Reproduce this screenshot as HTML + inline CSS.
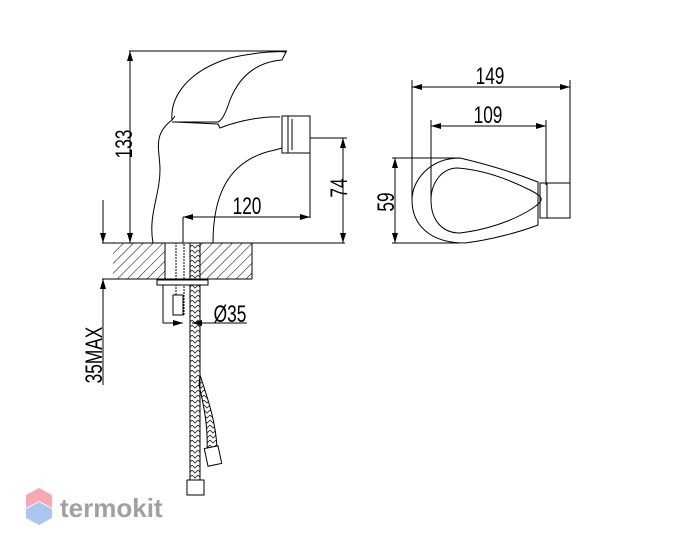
<!DOCTYPE html>
<html><head><meta charset="utf-8"><style>body{margin:0;background:#fff}svg{display:block}text{font-family:"Liberation Sans",sans-serif;fill:#000}</style></head>
<body>
<svg width="700" height="551" viewBox="0 0 700 551" xmlns="http://www.w3.org/2000/svg">
<defs>
<pattern id="h" width="7" height="7" patternUnits="userSpaceOnUse" patternTransform="rotate(45)"><line x1="0" y1="0" x2="0" y2="7" stroke="#000" stroke-width="1"/></pattern>
<pattern id="br" width="6" height="5" patternUnits="userSpaceOnUse"><path d="M0,0L3,3L6,0" stroke="#222" stroke-width="0.8" fill="none"/></pattern>
<marker id="a" viewBox="0 0 10 6" refX="10" refY="3" markerWidth="11" markerHeight="6" orient="auto-start-reverse" markerUnits="userSpaceOnUse"><path d="M0,0L10,3L0,6z" fill="#000"/></marker>
</defs>
<g stroke="#000" stroke-width="1" fill="none">
<rect x="113" y="243" width="52" height="36" fill="url(#h)" stroke="none"/>
<rect x="200" y="243" width="52" height="36" fill="url(#h)" stroke="none"/>
<line x1="102" y1="243" x2="345" y2="243"/>
<line x1="102" y1="279" x2="252" y2="279"/>
<line x1="165" y1="243" x2="165" y2="279"/>
<line x1="200" y1="243" x2="200" y2="279"/>
<line x1="252" y1="243" x2="252" y2="279"/>
<line x1="129" y1="51" x2="287" y2="51"/>
<line x1="130" y1="51" x2="130" y2="243" marker-start="url(#a)" marker-end="url(#a)"/>
<line x1="103" y1="200" x2="103" y2="243" marker-end="url(#a)"/>
<line x1="103" y1="385" x2="103" y2="279" marker-end="url(#a)"/>
<path d="M153,243 C148,215 160,195 160,170 C160,150 152,135 172,120 L175,116"/>
<path d="M213,243 C213,200 225,160 275,150 L282,148"/>
<path d="M172,120 C170,95 190,70 230,58 C255,52 280,51 286,52 L282,60 C258,62 240,75 230,100 C225,115 222,120 218,122 L172,122"/>
<path d="M175,122 L218,124 L220,128 C240,120 265,116 280,117"/>
<rect x="282" y="116" width="28" height="37"/>
<line x1="288" y1="116" x2="288" y2="153"/><line x1="292" y1="119" x2="292" y2="150"/>
<line x1="310" y1="138" x2="347" y2="138"/>
<line x1="343" y1="138" x2="343" y2="243" marker-start="url(#a)" marker-end="url(#a)"/>
<line x1="310" y1="153" x2="310" y2="218"/>
<line x1="183" y1="217" x2="183" y2="243"/>
<line x1="183" y1="217" x2="310" y2="217" marker-start="url(#a)" marker-end="url(#a)"/>
<rect x="176" y="243" width="8" height="72" stroke-dasharray="2 1"/>
<path d="M190,243 L190,480 L200,480 L200,243 Z" fill="url(#br)"/>
<path d="M199,385 C205,410 208,430 207,450 L217,448 C216,425 210,405 200,375 Z" fill="url(#br)"/>
<rect x="157" y="280" width="51" height="5" fill="#fff"/>
<rect x="173" y="295" width="10" height="20" fill="#fff"/>
<rect x="187" y="480" width="17" height="15" fill="#fff"/>
<rect x="206" y="447" width="14" height="18" fill="#fff" transform="rotate(-12 213 456)"/>
<line x1="163" y1="285" x2="163" y2="323"/>
<line x1="163" y1="323" x2="183" y2="323" marker-end="url(#a)"/>
<line x1="247" y1="323" x2="192" y2="323" marker-end="url(#a)"/>
<line x1="412" y1="80" x2="412" y2="200"/>
<line x1="570" y1="80" x2="570" y2="200"/>
<line x1="412" y1="87" x2="570" y2="87" marker-start="url(#a)" marker-end="url(#a)"/>
<line x1="431" y1="120" x2="431" y2="200"/>
<line x1="546" y1="120" x2="546" y2="185"/>
<line x1="431" y1="126" x2="546" y2="126" marker-start="url(#a)" marker-end="url(#a)"/>
<line x1="392" y1="158" x2="460" y2="158"/>
<line x1="392" y1="243" x2="460" y2="243"/>
<line x1="395" y1="158" x2="395" y2="243" marker-start="url(#a)" marker-end="url(#a)"/>
<path d="M460,158 C430,158 412,180 412,200 C412,225 430,243 465,243 C490,240 520,232 538,225 L538,182 C520,175 490,165 460,158 Z"/>
<path d="M458,168 C440,168 431,185 431,200 C431,220 442,233 460,233 C485,230 510,222 530,210 C545,200 545,198 530,190 C510,180 485,170 458,168 Z"/>
<rect x="540" y="183" width="30" height="35"/>
<line x1="547" y1="183" x2="547" y2="218"/>
</g>
<g font-size="24">
<text transform="translate(132,144) rotate(-90) scale(0.72,1)" text-anchor="middle">133</text>
<text transform="translate(247,214) scale(0.72,1)" text-anchor="middle">120</text>
<text transform="translate(347,188) rotate(-90) scale(0.72,1)" text-anchor="middle">74</text>
<text transform="translate(230,322) scale(0.72,1)" text-anchor="middle">Ø35</text>
<text transform="translate(102,355) rotate(-90) scale(0.72,1)" text-anchor="middle">35MAX</text>
<text transform="translate(490,84) scale(0.72,1)" text-anchor="middle">149</text>
<text transform="translate(488,123) scale(0.72,1)" text-anchor="middle">109</text>
<text transform="translate(394,202) rotate(-90) scale(0.72,1)" text-anchor="middle">59</text>
</g>
<path d="M39,488 L52,495 L52,508 L39,501 L26,508 L26,495 Z" fill="#f9a8b3"/>
<path d="M26,509 L39,502 L52,509 L52,518 L39,525 L26,518 Z" fill="#a9c6ef"/>
<text x="60" y="517" font-size="26" font-weight="bold" style="fill:#a0a0a0">termokit</text>
</svg>
</body></html>
